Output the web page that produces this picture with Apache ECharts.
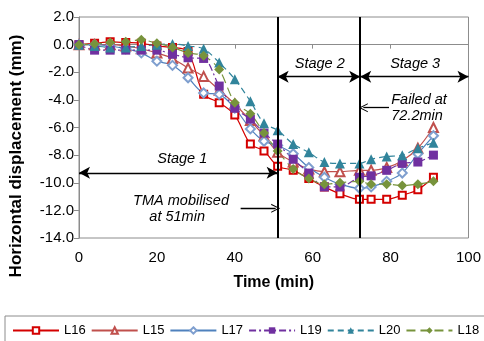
<!DOCTYPE html>
<html>
<head>
<meta charset="utf-8">
<script src="https://cdn.jsdelivr.net/npm/echarts@6/dist/echarts.min.js"></script>
<style>
  html, body { margin: 0; padding: 0; background: #fff; }
  #chart { width: 484px; height: 341px; }
</style>
</head>
<body>
<div id="chart"></div>
<script>
// time of each reading (min)
const times = [0, 4, 8, 12, 16, 20, 24, 28, 32, 36, 40, 44, 47.5, 51, 55, 59, 63, 67, 72, 75, 79, 83, 87, 91];

// horizontal displacement (mm)
const L16 = [0, 0.1, 0.2, 0.15, 0.1, -0.1, -0.2, -0.5, -3.6, -4.2, -5.1, -7.2, -7.7, -8.8, -9.1, -9.7, -10.3, -10.8, -11.2, -11.2, -11.2, -10.9, -10.5, -9.6];
const L15 = [0, 0, 0, -0.1, -0.3, -0.6, -1.0, -1.7, -2.3, -3.3, -4.3, -5.5, -6.6, -7.8, -8.5, -9.0, -9.2, -9.2, -9.1, -9.1, -8.9, -8.4, -7.5, -6.0];
const L17 = [0, 0, -0.1, -0.3, -0.6, -1.2, -1.5, -2.4, -3.5, -3.6, -4.6, -6.1, -7.0, -7.3, -7.9, -8.9, -9.6, -10.1, -10.4, -10.3, -9.9, -9.3, -7.9, -6.6];
const L19 = [0, -0.4, -0.4, -0.4, -0.4, -0.4, -0.7, -0.95, -1.0, -3.0, -4.6, -5.4, -6.4, -7.2, -8.3, -9.3, -10.3, -10.3, -9.6, -9.5, -9.1, -8.6, -8.5, -8.0];
const L20 = [0, -0.1, -0.2, -0.2, -0.1, 0, 0.05, -0.1, -0.3, -1.3, -2.5, -4.1, -5.7, -6.2, -7.2, -7.8, -8.5, -8.6, -8.6, -8.3, -8.1, -8.0, -7.5, -7.1];
const L18 = [0, 0.05, 0.15, 0.2, 0.35, 0.1, -0.2, -0.6, -0.8, -1.8, -4.2, -5.0, -6.4, -7.7, -9.0, -9.7, -10.1, -10.0, -9.9, -10.1, -10.1, -10.2, -10.1, -9.9];

const yTicks = [-14, 2, 2];   // min, max, interval
const xTicks = [0, 100, 20];

const FONT = '"Liberation Sans", Arial, sans-serif';
const chart = echarts.init(document.getElementById('chart'));

const pairs = (vals) => times.map((t, i) => [t, vals[i]]);

function lineSeries(name, vals, color, symbol, size, dash, symbolColor) {
  const hollow = symbol.startsWith('empty');
  return {
    name,
    type: 'line',
    data: pairs(vals),
    smooth: 0.3,
    symbol,
    symbolSize: size,
    showAllSymbol: true,
    lineStyle: { color, width: 1.2, type: dash },
    itemStyle: hollow
      ? { color: symbolColor || color, borderWidth: 1.2 }
      : { color: symbolColor || color },
    emphasis: { disabled: true },
    z: 3,
  };
}

const openArrow = 'path://M0,10 L5,0 L10,10 L8.8,10 L5,2.4 L1.2,10 Z';
const thick = { width: 2 };
const arrowLines = [
  // vertical stage boundaries
  [{ coord: [51, 2], symbol: 'none', lineStyle: thick }, { coord: [51, -14], symbol: 'none', lineStyle: thick }],
  [{ coord: [72.2, 2], symbol: 'none', lineStyle: thick }, { coord: [72.2, -14], symbol: 'none', lineStyle: thick }],
  // stage arrows
  [{ coord: [0, -9.28], symbol: 'arrow' }, { coord: [51, -9.28], symbol: 'arrow' }],
  [{ coord: [51, -2.32], symbol: 'arrow' }, { coord: [72.2, -2.32], symbol: 'arrow' }],
  [{ coord: [72.2, -2.32], symbol: 'arrow' }, { coord: [100, -2.32], symbol: 'arrow' }],
  // pointers
  [{ coord: [79.6, -4.57], symbol: 'none' }, { coord: [73, -4.57], symbol: openArrow, symbolSize: [9, 9] }],
  [{ coord: [41.5, -11.85], symbol: 'none' }, { coord: [50.5, -11.85], symbol: openArrow, symbolSize: [9, 9] }],
];

const option = {
  animation: false,
  textStyle: { fontFamily: FONT },
  grid: { left: 79, right: 12, top: 17, bottom: 103, show: true, borderColor: '#8c8c8c', borderWidth: 1 },
  legend: {
    left: 5, top: 316, width: 600,
    padding: [8, 7, 8, 7],
    itemWidth: 46, itemHeight: 8, itemGap: 5,
    borderColor: '#8c8c8c', borderWidth: 1,
    textStyle: { fontSize: 13, color: '#000', fontFamily: FONT },
    data: ['L16', 'L15', 'L17', 'L19', 'L20', 'L18'],
  },
  xAxis: [
    {
      type: 'value', min: xTicks[0], max: xTicks[1], interval: xTicks[2],
      position: 'bottom',
      axisLine: { show: false, onZero: false },
      axisTick: { show: false },
      splitLine: { show: false },
      axisLabel: { fontSize: 15, color: '#000', margin: 12 },
      name: 'Time (min)', nameLocation: 'middle', nameGap: 37,
      nameTextStyle: { fontSize: 16, fontWeight: 'bold', color: '#000' },
    },
    {
      type: 'value', min: xTicks[0], max: xTicks[1], interval: xTicks[2],
      position: 'top',
      axisLine: { show: true, onZero: true, lineStyle: { color: '#8c8c8c' } },
      axisTick: { show: true, inside: true, length: 4, lineStyle: { color: '#8c8c8c' } },
      axisLabel: { show: false },
      splitLine: { show: false },
    },
  ],
  yAxis: {
    type: 'value', min: yTicks[0], max: yTicks[1], interval: yTicks[2],
    axisLine: { show: true, onZero: false, lineStyle: { color: '#8c8c8c' } },
    axisTick: { show: true, length: 5, lineStyle: { color: '#8c8c8c' } },
    splitLine: { show: false },
    axisLabel: { fontSize: 15, color: '#000', margin: 5, formatter: (v) => v.toFixed(1) },
  },
  series: [
    lineSeries('L16', L16, '#d40000', 'emptyRect', 7, 'solid'),
    lineSeries('L15', L15, '#c0504d', 'emptyTriangle', 9, 'solid'),
    lineSeries('L17', L17, '#4f81bd', 'emptyDiamond', 9, 'solid', '#7f9fcf'),
    lineSeries('L19', L19, '#7030a0', 'rect', 9, [7, 3, 2, 3]),
    lineSeries('L20', L20, '#31849b', 'triangle', 10, [6, 4]),
    lineSeries('L18', L18, '#77933c', 'diamond', 10, [9, 5]),
    {
      name: 'annot', type: 'line', data: [], silent: true, z: 5,
      markLine: {
        silent: true, animation: false,
        symbolSize: [9, 11],
        label: { show: false },
        lineStyle: { color: '#000', width: 1.3, type: 'solid' },
        emphasis: { disabled: true },
        data: arrowLines,
      },
    },
  ],
};

chart.setOption(option);

// text notes, placed in data coordinates
const notes = [
  ['Stage 1', 26.5, -8.26],
  ['Stage 2', 61.8, -1.38],
  ['Stage 3', 86.3, -1.38],
  ['Failed at', 87.3, -4.0],
  ['72.2min', 86.8, -5.15],
  ['TMA mobilised', 26.2, -11.3],
  ['at 51min', 25.2, -12.45],
];

const graphics = notes.map(([text, x, y]) => {
  const p = chart.convertToPixel({ gridIndex: 0 }, [x, y]);
  return {
    type: 'text', x: p[0], y: p[1], z: 10,
    style: {
      text, fill: '#000', font: 'italic 14.5px ' + FONT,
      textAlign: 'center', textVerticalAlign: 'middle',
    },
  };
});

graphics.push({
  type: 'text', x: 16, y: 156, rotation: Math.PI / 2, z: 10,
  style: {
    text: 'Horizontal displacement (mm)', fill: '#000', font: 'bold 17px ' + FONT,
    textAlign: 'center', textVerticalAlign: 'middle',
  },
});

chart.setOption({ graphic: graphics });
window.addEventListener('resize', () => chart.resize());
</script>
</body>
</html>
